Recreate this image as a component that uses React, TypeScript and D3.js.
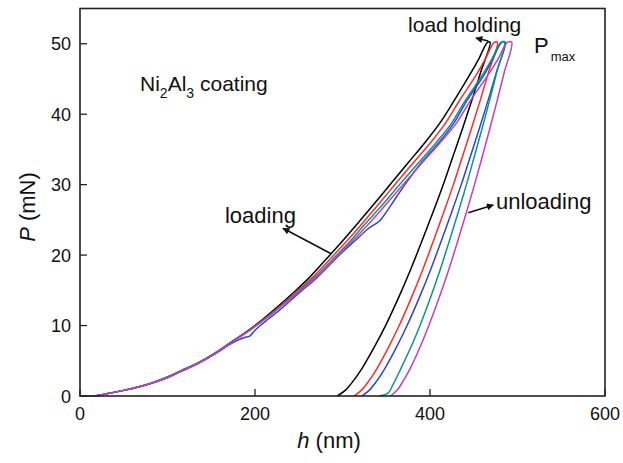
import React, { useEffect, useRef } from 'react';
import * as d3 from 'd3';

const xTicks = [0, 200, 400, 600];
const yTicks = [0, 10, 20, 30, 40, 50];

// [h (nm), P (mN)] — loading, load holding at Pmax, unloading
const curveBlack = [
  [0, 0], [17, 0], [30, 0.3], [50, 0.8], [76, 1.6], [100, 2.7], [114, 3.5], [135, 4.7], [152, 5.9],
  [171, 7.5], [190, 9.1], [210, 11.0], [228, 12.9], [245, 14.8], [262, 16.8], [287, 20.2], [300, 22.0],
  [316, 24.3], [335, 27.1], [357, 30.4], [375, 33.1], [395, 36.1], [411, 38.7], [426, 41.6],
  [445, 45.5], [456, 47.9], [465.7, 50.2],
  [468.7, 50.2],
  [458.0, 46], [447.9, 42], [437.3, 38], [426.2, 34], [415.1, 30], [403.2, 26], [390.8, 22], [378.0, 18],
  [364.2, 14], [349.2, 10], [336.6, 7], [322.7, 4], [311.5, 2], [303.1, 0.8], [294, 0],
];

const curveRed = [
  [0, 0], [17, 0], [30, 0.3], [50, 0.8], [76, 1.6], [100, 2.7], [114, 3.5], [135, 4.7], [152, 5.9],
  [171.5, 7.5], [191, 9.1], [211.5, 11.0], [230, 12.9], [247.5, 14.8], [265.5, 16.8], [291.5, 20.2],
  [305, 22.0], [320, 24.1], [340.5, 27.1], [362.5, 30.4], [381, 33.1], [401.5, 36.1], [417.5, 38.7],
  [433, 41.8], [452.5, 45.5], [463.5, 47.9], [473.4, 50.2],
  [477, 50.2],
  [467.0, 46], [457.5, 42], [447.5, 38], [437.1, 34], [426.7, 30], [415.5, 26], [403.9, 22], [391.9, 18],
  [378.9, 14], [364.8, 10], [353.0, 7], [339.9, 4], [329.4, 2], [321.5, 0.8], [313, 0],
];

const curveBlue = [
  [0, 0], [15, 0], [30, 0.3], [50, 0.8], [76, 1.6], [100, 2.6], [114, 3.4], [135, 4.6], [152, 5.8],
  [171, 7.3], [180, 7.9], [188, 8.3], [194, 8.5], [199, 9.2], [206, 10.0], [216, 11.0], [232, 12.6],
  [251, 14.7], [271, 16.8], [298, 20.2], [314, 22.0], [328, 23.6], [336, 24.3], [342, 24.8],
  [350, 26.1], [356, 27.2], [372, 30.1], [390, 33.1], [411, 36.1], [427, 38.7], [442, 41.9],
  [461.5, 45.5], [472, 47.9], [482, 50.2],
  [486, 50.2],
  [476.0, 46], [466.5, 42], [456.5, 38], [446.1, 34], [435.7, 30], [424.5, 26], [412.9, 22], [400.9, 18],
  [387.9, 14], [373.8, 10], [362.0, 7], [348.9, 4], [338.4, 2], [330.5, 0.8], [322, 0],
];

const curveTeal = [
  [0, 0], [17, 0], [30, 0.3], [50, 0.8], [76, 1.6], [100, 2.7], [114, 3.5], [135, 4.7], [152, 5.9],
  [171.5, 7.5], [191, 9.1], [212, 11.0], [231, 12.9], [249, 14.8], [268, 16.8], [295, 20.2], [309, 22.0],
  [325, 24.3], [345.5, 27.1], [368, 30.4], [387, 33.1], [408, 36.1], [424.5, 38.7], [440, 41.9],
  [459.5, 45.5], [471, 47.9], [481, 50.2],
  [485, 50.2],
  [476.4, 46], [468.2, 42], [459.6, 38], [450.7, 34], [441.7, 30], [432.1, 26], [422.1, 22], [411.8, 18],
  [400.7, 14], [388.6, 10], [378.4, 7], [367.1, 4], [358.5, 1.8], [352, 0.4], [346, 0.1], [342, 0],
];

const curveMagenta = [
  [0, 0], [12, 0], [30, 0.3], [50, 0.8], [76, 1.6], [100, 2.6], [114, 3.4], [135, 4.6], [152, 5.8],
  [172, 7.5], [191.5, 9.1], [212.5, 11.0], [231.5, 12.9], [250, 14.8], [270, 16.8], [297, 20.2],
  [311.5, 22.0], [329, 24.3], [349, 27.1], [372, 30.4], [391, 33.1], [412.5, 36.1], [430, 38.7],
  [446, 41.9], [466, 45.5], [478, 47.9], [488.5, 50.2],
  [493.4, 50.2],
  [485.0, 46], [476.9, 42], [468.5, 38], [459.8, 34], [450.9, 30], [441.5, 26], [431.7, 22], [421.6, 18],
  [410.6, 14], [398.7, 10], [388.8, 7], [377.7, 4], [368.8, 2], [362.2, 0.8], [355, 0],
];

const curves = [
  { color: '#000000', data: curveBlack },
  { color: '#ff2a2a', data: curveRed },
  { color: '#2a44d8', data: curveBlue },
  { color: '#0a9585', data: curveTeal },
  { color: '#c43cc4', data: curveMagenta },
];

const W = 623;
const H = 463;
const font = 'Liberation Sans, Arial, Helvetica, sans-serif';

const App = () => {
  const ref = useRef<SVGSVGElement>(null);

  useEffect(() => {
    const svg = d3.select(ref.current);
    svg.selectAll('*').remove();

    const x = d3.scaleLinear().domain([0, 600]).range([80, 605]);
    const y = d3.scaleLinear().domain([0, 55]).range([396, 8.5]);

    svg
      .append('defs')
      .append('marker')
      .attr('id', 'arrow')
      .attr('viewBox', '0 0 10 10')
      .attr('refX', 9)
      .attr('refY', 5)
      .attr('markerUnits', 'userSpaceOnUse')
      .attr('markerWidth', 11)
      .attr('markerHeight', 7)
      .attr('orient', 'auto-start-reverse')
      .append('path')
      .attr('d', 'M0,0 L10,5 L0,10 z')
      .attr('fill', '#111');

    const line = d3
      .line<number[]>()
      .x((d) => x(d[0]))
      .y((d) => y(d[1]))
      .curve(d3.curveCatmullRom.alpha(0.5));

    // curves
    curves.forEach((c) => {
      svg
        .append('path')
        .attr('d', line(c.data))
        .attr('fill', 'none')
        .attr('stroke', c.color)
        .attr('stroke-width', 1.5)
        .attr('stroke-linejoin', 'round');
    });

    // frame + inward ticks
    svg
      .append('rect')
      .attr('x', x(0))
      .attr('y', y(55))
      .attr('width', x(600) - x(0))
      .attr('height', y(0) - y(55))
      .attr('fill', 'none')
      .attr('stroke', '#222')
      .attr('stroke-width', 1.6);

    xTicks.forEach((t) => {
      svg
        .append('line')
        .attr('x1', x(t))
        .attr('x2', x(t))
        .attr('y1', y(0))
        .attr('y2', y(0) - 7)
        .attr('stroke', '#222')
        .attr('stroke-width', 1.3);
      svg
        .append('text')
        .attr('x', x(t))
        .attr('y', 420)
        .attr('text-anchor', 'middle')
        .attr('font-family', font)
        .attr('font-size', 18)
        .attr('fill', '#111')
        .text(t);
    });

    yTicks.forEach((t) => {
      svg
        .append('line')
        .attr('x1', x(0))
        .attr('x2', x(0) + 7)
        .attr('y1', y(t))
        .attr('y2', y(t))
        .attr('stroke', '#222')
        .attr('stroke-width', 1.3);
      svg
        .append('text')
        .attr('x', 71)
        .attr('y', y(t) + 6.5)
        .attr('text-anchor', 'end')
        .attr('font-family', font)
        .attr('font-size', 18)
        .attr('fill', '#111')
        .text(t);
    });

    // axis titles
    const xt = svg
      .append('text')
      .attr('x', 329)
      .attr('y', 448)
      .attr('text-anchor', 'middle')
      .attr('font-family', font)
      .attr('font-size', 22)
      .attr('fill', '#111');
    xt.append('tspan').attr('font-style', 'italic').text('h');
    xt.append('tspan').text(' (nm)');

    const yt = svg
      .append('text')
      .attr('transform', 'translate(35,207) rotate(-90)')
      .attr('text-anchor', 'middle')
      .attr('font-family', font)
      .attr('font-size', 22)
      .attr('fill', '#111');
    yt.append('tspan').attr('font-style', 'italic').text('P');
    yt.append('tspan').text(' (mN)');

    // annotations
    const label = (h: number, p: number, size = 21) =>
      svg
        .append('text')
        .attr('x', x(h))
        .attr('y', y(p))
        .attr('font-family', font)
        .attr('font-size', size)
        .attr('fill', '#111');

    const ni = label(68.6, 43.3);
    ni.append('tspan').text('Ni');
    ni.append('tspan').attr('font-size', 14).attr('dy', 7).text('2');
    ni.append('tspan').attr('dy', -7).text('Al');
    ni.append('tspan').attr('font-size', 14).attr('dy', 7).text('3');
    ni.append('tspan').attr('dy', -7).text(' coating');

    label(165.7, 24.5, 22).text('loading');
    label(475.4, 26.5, 22).text('unloading');
    label(374.9, 51.6, 21).text('load holding');

    const pm = label(518.9, 48.7, 22);
    pm.append('tspan').text('P');
    pm.append('tspan').attr('font-size', 13).attr('dx', 2).attr('dy', 8).text('max');

    const arrow = (h1: number, p1: number, h2: number, p2: number) =>
      svg
        .append('line')
        .attr('x1', x(h1))
        .attr('y1', y(p1))
        .attr('x2', x(h2))
        .attr('y2', y(p2))
        .attr('stroke', '#111')
        .attr('stroke-width', 1.6)
        .attr('marker-end', 'url(#arrow)');

    arrow(287, 20.2, 232, 23.8);
    arrow(443.8, 26.0, 472.3, 27.1);
    arrow(466.6, 50.4, 452.5, 50.8);
  }, []);

  return (
    <div>
      <style>{'body{margin:0}'}</style>
      <svg ref={ref} width={W} height={H} style={{ display: 'block', background: '#fff' }} />
    </div>
  );
};

export default App;
